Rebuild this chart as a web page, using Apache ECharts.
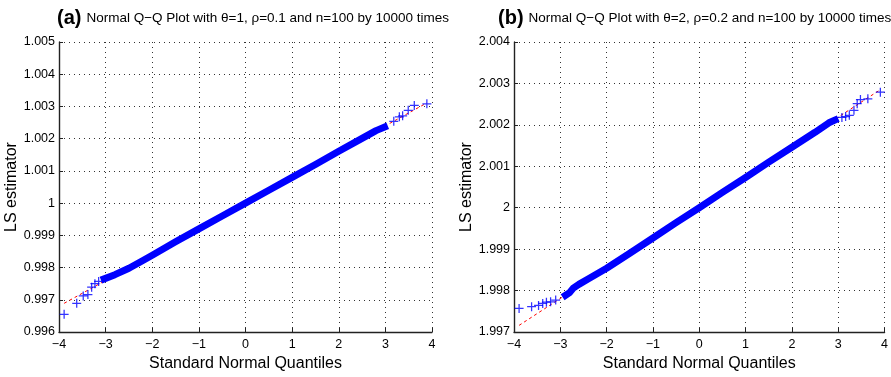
<!DOCTYPE html>
<html>
<head>
<meta charset="utf-8">
<script src="https://cdn.jsdelivr.net/npm/echarts@6/dist/echarts.min.js"></script>
<style>
  html, body { margin: 0; padding: 0; background: #fff; }
  #main { width: 891px; height: 377px; }
</style>
</head>
<body>
<div id="main"></div>
<script>
// panel (a): theta=1, rho=0.1
var bandAx = [-3.1, -2.8, -2.5, -2.2, -2.0, -1.5, -1.0, -0.5, 0, 0.5, 1.0, 1.5, 2.0, 2.5, 2.8, 3.05];
var bandAy = [0.99761, 0.99778, 0.99798, 0.99822, 0.99838, 0.99880, 0.99920, 0.99960, 1.00000,
              1.00040, 1.00080, 1.00120, 1.00161, 1.00201, 1.00225, 1.00240];
var tailA = [[-3.89, 0.99655], [-3.62, 0.99689], [-3.48, 0.99712], [-3.38, 0.99716], [-3.30, 0.99739],
             [-3.23, 0.99750], [-3.15, 0.99757], [3.18, 1.00254], [3.30, 1.00268], [3.37, 1.00271],
             [3.49, 1.00288], [3.62, 1.00303], [3.89, 1.00308]];
var refA = [[-3.89, 0.99689], [3.89, 1.00311]];

// panel (b): theta=2, rho=0.2
var bandBx = [-2.95, -2.8, -2.72, -2.6, -2.4, -2.0, -1.5, -1.0, -0.5, 0, 0.5, 1.0, 1.5, 2.0, 2.5, 2.8, 3.0];
var bandBy = [1.99784, 1.99795, 1.99806, 1.99815, 1.99828, 1.99854, 1.99890, 1.99927, 1.99964, 2.00000,
              2.00037, 2.00073, 2.00110, 2.00146, 2.00182, 2.00205, 2.00215];
var tailB = [[-3.89, 1.99757], [-3.62, 1.99761], [-3.47, 1.99764], [-3.38, 1.99769], [-3.30, 1.99772],
             [-3.21, 1.99773], [-3.10, 1.99777], [3.08, 2.00218], [3.16, 2.00220], [3.24, 2.00223],
             [3.34, 2.00235], [3.41, 2.00251], [3.48, 2.00261], [3.64, 2.00263], [3.91, 2.00279]];
var refB = [[-3.89, 1.99716], [3.91, 2.00285]];

var titles = ['(a)', '(b)'];
var subtitles = ['Normal Q\u2212Q Plot with \u03b8=1, \u03c1=0.1 and n=100 by 10000 times',
                 'Normal Q\u2212Q Plot with \u03b8=2, \u03c1=0.2 and n=100 by 10000 times'];
var yRanges = [[0.996, 1.005], [1.997, 2.004]];

var FONT = 'Liberation Sans';
var plus = 'path://M4.3,0h1.4v4.3h4.3v1.4h-4.3v4.3h-1.4v-4.3h-4.3v-1.4h4.3z';

function pairs(xs, ys) {
  var res = [];
  for (var i = 0; i < xs.length; i++) res.push([xs[i], ys[i]]);
  return res;
}
function minus(s) { return String(s).replace('-', '\u2212'); }

var grids = [
  {left: 59, right: 459, top: 42, bottom: 43},
  {left: 514, right: 5, top: 42, bottom: 43}
];

var xAxes = [], yAxes = [], titleList = [];
for (var k = 0; k < 2; k++) {
  titleList.push({
    left: [52, 493][k], top: 3,
    text: '{b|' + titles[k] + '} {n|' + subtitles[k] + '}',
    textStyle: {
      fontWeight: 'normal',
      rich: {
        b: {fontFamily: FONT, fontSize: 20, fontWeight: 'bold', color: '#000'},
        n: {fontFamily: FONT, fontSize: 13.5, fontWeight: 'normal', color: '#000'}
      }
    }
  });
  xAxes.push({
    gridIndex: k, type: 'value', min: -4, max: 4, interval: 1,
    name: 'Standard Normal Quantiles', nameLocation: 'middle', nameGap: 24,
    nameTextStyle: {fontFamily: FONT, fontSize: 16, color: '#000'},
    axisLine: {onZero: false, lineStyle: {color: '#222', width: 1.4}},
    axisTick: {inside: true, length: 4, lineStyle: {color: '#222'}},
    axisLabel: {fontFamily: FONT, fontSize: 12.5, color: '#000', margin: 6, formatter: minus},
    splitLine: {show: true, lineStyle: {color: '#333', width: 1, type: [1, 4]}}
  });
  yAxes.push({
    gridIndex: k, type: 'value', min: yRanges[k][0], max: yRanges[k][1], interval: 0.001,
    name: 'LS estimator', nameLocation: 'middle', nameGap: 37,
    nameTextStyle: {fontFamily: FONT, fontSize: 16, color: '#000'},
    axisLine: {show: true, onZero: false, lineStyle: {color: '#222', width: 1.4}},
    axisTick: {inside: true, length: 4, lineStyle: {color: '#222'}},
    axisLabel: {fontFamily: FONT, fontSize: 12.5, color: '#000', margin: 4,
      formatter: function (v) { return String(parseFloat(v.toFixed(3))); }},
    splitLine: {show: true, lineStyle: {color: '#333', width: 1, type: [1, 4]}}
  });
}

var bands = [pairs(bandAx, bandAy), pairs(bandBx, bandBy)];
var tails = [tailA, tailB];
var refs = [refA, refB];
var series = [];
for (var k = 0; k < 2; k++) {
  series.push({
    type: 'line', xAxisIndex: k, yAxisIndex: k, data: refs[k], z: 2,
    symbol: 'none', silent: true,
    lineStyle: {color: '#ff0000', width: 1, type: [3, 3]}
  });
  series.push({
    type: 'line', xAxisIndex: k, yAxisIndex: k, data: bands[k], z: 3,
    symbol: 'none', silent: true,
    lineStyle: {color: '#0000ff', width: 7, cap: 'butt', join: 'round'}
  });
  series.push({
    type: 'scatter', xAxisIndex: k, yAxisIndex: k, data: tails[k], z: 4,
    symbol: plus, symbolSize: 9, silent: true,
    itemStyle: {color: '#0000ff'}
  });
}

var chart = echarts.init(document.getElementById('main'));
chart.setOption({
  backgroundColor: '#fff',
  animation: false,
  title: titleList,
  grid: grids,
  xAxis: xAxes,
  yAxis: yAxes,
  series: series
});
</script>
</body>
</html>
